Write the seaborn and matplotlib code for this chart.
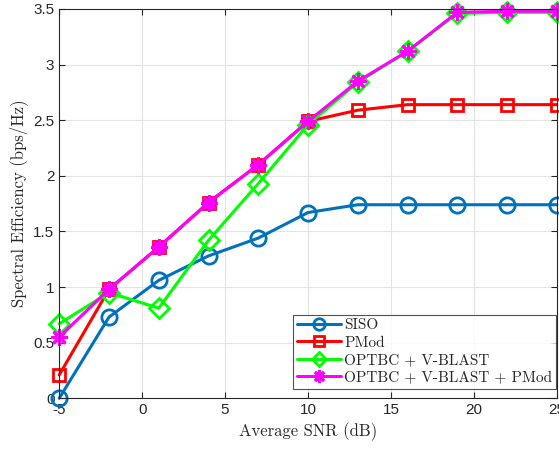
import seaborn as sns
import pandas as pd
import matplotlib.pyplot as plt
import numpy as np

snr = [-5, -2, 1, 4, 7, 10, 13, 16, 19, 22, 25]
siso = [0.0, 0.73, 1.06, 1.28, 1.44, 1.67, 1.74, 1.74, 1.74, 1.74, 1.74]
pmod = [0.21, 0.98, 1.36, 1.76, 2.10, 2.49, 2.59, 2.64, 2.64, 2.64, 2.64]
optbc = [0.67, 0.95, 0.81, 1.42, 1.93, 2.46, 2.84, 3.12, 3.46, 3.47, 3.47]
optbc_pmod = [0.55, 0.98, 1.36, 1.76, 2.10, 2.49, 2.85, 3.12, 3.47, 3.48, 3.48]

names = ['SISO', 'PMod', 'OPTBC + V-BLAST', 'OPTBC + V-BLAST + PMod']
colors = ['#0072BD', '#FF0000', '#00FF00', '#FF00FF']
markers = ['o', 's', 'D', (8, 2, 0)]
sizes = [11, 9, 10, 12]

df = pd.DataFrame({'snr': snr * 4,
                   'se': siso + pmod + optbc + optbc_pmod,
                   'scheme': [n for n in names for _ in snr]})

sns.set_style('white')
plt.rcParams['font.family'] = ['Liberation Sans', 'DejaVu Sans']
plt.rcParams['axes.formatter.use_mathtext'] = False

fig, ax = plt.subplots(figsize=(5.59, 4.50), dpi=100)
fig.subplots_adjust(left=0.106, right=0.996, top=0.98, bottom=0.115)

for name, c, m, ms in zip(names, colors, markers, sizes):
    sub = df[df.scheme == name]
    sns.lineplot(data=sub, x='snr', y='se', ax=ax, color=c, lw=2.2, marker=m,
                 markersize=ms, markerfacecolor='none',
                 markeredgecolor=c, markeredgewidth=2.0, label=name,
                 clip_on=False)

ax.set_xlim(-5, 25)
ax.set_ylim(0, 3.5)
ax.set_xticks(np.arange(-5, 26, 5))
ax.set_yticks(np.arange(0, 3.6, 0.5))
ax.set_xticklabels(['-5', '0', '5', '10', '15', '20', '25'])
ax.set_yticklabels(['0', '0.5', '1', '1.5', '2', '2.5', '3', '3.5'])
ax.grid(True, color='#e3e3e3', lw=0.8)
ax.tick_params(direction='in', length=4, labelsize=11, colors='#262626',
               top=True, right=True, bottom=True, left=True)
for s in ax.spines.values():
    s.set_color('#262626')
    s.set_linewidth(0.8)

ax.set_xlabel('Average SNR (dB)', fontfamily='cmr10', fontsize=12, color='#262626')
ax.set_ylabel('Spectral Efficiency (bps/Hz)', fontfamily='cmr10', fontsize=12, color='#262626')

leg = ax.legend(loc='lower right', prop={'family': 'cmr10', 'size': 11},
                frameon=True, fancybox=False, edgecolor='#262626',
                borderpad=0.25, labelspacing=0.25, handlelength=2.9,
                handletextpad=0.2, borderaxespad=0.0, markerscale=0.75,
                bbox_to_anchor=(0.999, 0.025))
leg.get_frame().set_linewidth(0.8)

plt.savefig('out.png', dpi=100)
plt.close()
